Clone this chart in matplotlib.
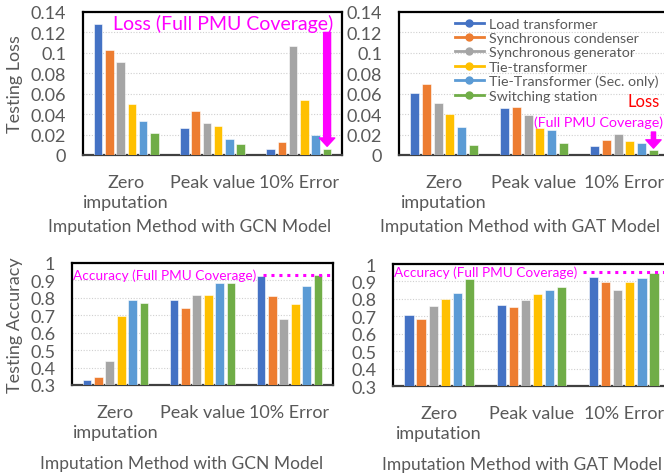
import matplotlib
matplotlib.use("Agg")
import matplotlib.pyplot as plt
import numpy as np

plt.rcParams['font.family'] = ['Lato', 'DejaVu Sans']

categories = ["Zero\nimputation", "Peak value", "10% Error"]
series = ["Load transformer", "Synchronous condenser", "Synchronous generator",
          "Tie-transformer", "Tie-Transformer (Sec. only)", "Switching station"]
colors = ["#4472C4", "#ED7D31", "#A5A5A5", "#FFC000", "#5B9BD5", "#70AD47"]

# rows = series, columns = categories
gcn_loss = [
    [0.128, 0.026, 0.006],
    [0.1026, 0.043, 0.013],
    [0.091, 0.0314, 0.107],
    [0.050, 0.028, 0.0535],
    [0.0337, 0.0157, 0.020],
    [0.0218, 0.0112, 0.006],
]
gat_loss = [
    [0.0609, 0.0458, 0.0085],
    [0.0694, 0.047, 0.0147],
    [0.051, 0.039, 0.021],
    [0.040, 0.0265, 0.0137],
    [0.0278, 0.024, 0.0118],
    [0.0098, 0.0118, 0.0052],
]
gcn_acc = [
    [0.331, 0.786, 0.924],
    [0.344, 0.741, 0.809],
    [0.439, 0.814, 0.678],
    [0.697, 0.814, 0.764],
    [0.786, 0.886, 0.866],
    [0.772, 0.886, 0.930],
]
gat_acc = [
    [0.707, 0.763, 0.923],
    [0.687, 0.755, 0.897],
    [0.757, 0.796, 0.853],
    [0.802, 0.827, 0.897],
    [0.833, 0.853, 0.917],
    [0.915, 0.870, 0.948],
]
full_pmu_acc_gcn = 0.932
full_pmu_acc_gat = 0.954
loss_ticks = [0, 0.02, 0.04, 0.06, 0.08, 0.1, 0.12, 0.14]
acc_ticks = [0.3, 0.4, 0.5, 0.6, 0.7, 0.8, 0.9, 1.0]

TXT = "#595959"
MAG = "#FF00FF"
pitch = 0.131
bw = 0.10

fig = plt.figure(figsize=(6.64, 4.77), dpi=100)
W, H = 664, 477
def add_ax(l, t, w, h):
    return fig.add_axes([l / W, 1 - (t + h) / H, w / W, h / H])

ax_tl = add_ax(83, 13, 259, 143)
ax_tr = add_ax(399, 13, 270, 143)
ax_bl = add_ax(72, 264, 261, 122)
ax_br = add_ax(393, 265, 277, 122)

x = np.arange(len(categories))

def draw(ax, data, ticks, xlabel, xlab_x, xlab_y):
    for i, (vals, c) in enumerate(zip(data, colors)):
        ax.bar(x + (i - 2.5) * pitch, np.array(vals) - ticks[0], bottom=ticks[0],
               width=bw, color=c, edgecolor="white", linewidth=0.4, zorder=3)
    ax.set_xlim(-0.5, 2.5)
    ax.set_ylim(ticks[0], ticks[-1])
    ax.set_yticks(ticks)
    ax.set_yticklabels([f"{t:g}" for t in ticks])
    ax.set_xticks(x)
    ax.set_xticklabels(categories, linespacing=1.3)
    ax.tick_params(axis='y', length=0, pad=12, labelsize=13, labelcolor=TXT)
    ax.tick_params(axis='x', length=0, pad=14, labelsize=13, labelcolor=TXT)
    ax.grid(axis='y', color="#D0D0D0", linestyle=(0, (1, 1.5)), linewidth=0.8, zorder=0)
    for s in ax.spines.values():
        s.set_color("black")
        s.set_linewidth(1.6)
    ax.spines['bottom'].set_color("#404040")
    ax.set_xlabel(xlabel, fontsize=12.5, color=TXT)
    ax.xaxis.set_label_coords(xlab_x, xlab_y)

draw(ax_tl, gcn_loss, loss_ticks, "Imputation Method with GCN Model", 0.413, -0.44)
draw(ax_tr, gat_loss, loss_ticks, "Imputation Method with GAT Model", 0.448, -0.44)
draw(ax_bl, gcn_acc, acc_ticks, "Imputation Method with GCN Model", 0.42, -0.57)
draw(ax_br, gat_acc, acc_ticks, "Imputation Method with GAT Model", 0.466, -0.57)

ax_tl.set_ylabel("Testing Loss", fontsize=13, color=TXT)
ax_tl.yaxis.set_label_coords(-0.232, 0.5)
ax_bl.set_ylabel("Testing Accuracy", fontsize=13, color=TXT)
ax_bl.yaxis.set_label_coords(-0.188, 0.5)

# Loss annotations
green_x = 2 + 2.5 * pitch
ax_tl.text(0.965, 0.92, "Loss (Full PMU Coverage)", transform=ax_tl.transAxes,
           ha='right', va='center', color=MAG, fontsize=14)
ax_tl.annotate("", xy=(green_x, gcn_loss[5][2] + 0.0025), xytext=(green_x, 0.12),
               arrowprops=dict(width=5, headwidth=11, headlength=6, color=MAG, shrink=0),
               zorder=5)
ax_tr.text(0.965, 0.375, "Loss", transform=ax_tr.transAxes, ha='right', va='center',
           color="#FF0000", fontsize=12, clip_on=False)
ax_tr.text(0.978, 0.235, "(Full PMU Coverage)", transform=ax_tr.transAxes, ha='right',
           va='center', color=MAG, fontsize=10.3, clip_on=False)
ax_tr.annotate("", xy=(green_x, gat_loss[5][2] + 0.0015), xytext=(green_x, 0.0225),
               arrowprops=dict(width=3, headwidth=11, headlength=6, color=MAG, shrink=0),
               zorder=5)

# Accuracy annotations
ax_bl.axhline(full_pmu_acc_gcn, xmin=0.73, xmax=1.0, color=MAG, linestyle=(0, (1, 1.6)),
              linewidth=2.2, zorder=4, clip_on=False)
ax_bl.text(0.005, full_pmu_acc_gcn, "Accuracy (Full PMU Coverage)",
           transform=ax_bl.get_yaxis_transform(), ha='left', va='center',
           color=MAG, fontsize=9.8, zorder=5)
ax_br.axhline(full_pmu_acc_gat, xmin=0.686, xmax=1.0, color=MAG, linestyle=(0, (1, 1.6)),
              linewidth=2.2, zorder=4, clip_on=False)
ax_br.text(0.005, full_pmu_acc_gat, "Accuracy (Full PMU Coverage)",
           transform=ax_br.get_yaxis_transform(), ha='left', va='center',
           color=MAG, fontsize=9.8, zorder=5)

# Legend
handles = [plt.Line2D([0], [0], color=c, marker='o', markersize=5, linewidth=2)
           for c in colors]
leg = ax_tr.legend(handles, series, loc='upper left', bbox_to_anchor=(0.17, 1.03),
                   frameon=False, fontsize=10.3, handlelength=2.0, handletextpad=0.35,
                   labelspacing=0.16, borderpad=0.2)
for t in leg.get_texts():
    t.set_color(TXT)

fig.savefig("out.png", dpi=100)
